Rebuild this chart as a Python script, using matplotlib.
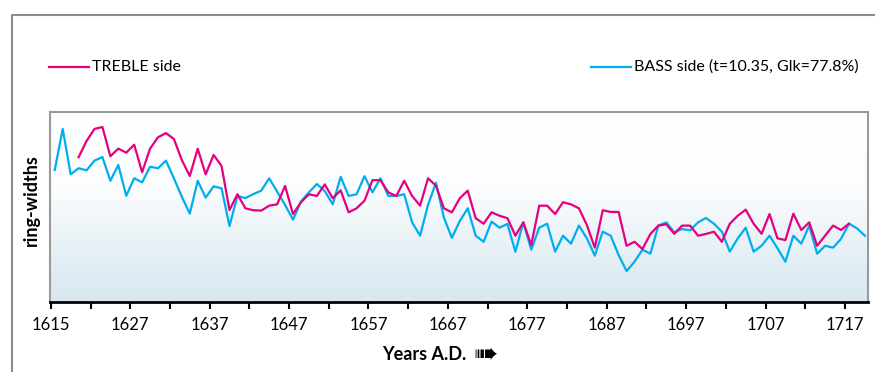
import numpy as np
import matplotlib
matplotlib.use("Agg")
import matplotlib.pyplot as plt
from matplotlib.lines import Line2D
from matplotlib.colors import LinearSegmentedColormap

plt.rcParams['font.family'] = ['Lato', 'DejaVu Sans']

# ring-width index (arbitrary units)
bass_start = 1617
bass = [69.5, 91.1, 67.2, 70.4, 69.3, 74.4, 76.3, 63.8, 72.1, 55.9,
        65.1, 63.0, 71.2, 70.4, 74.4, 65.1, 55.4, 46.5, 63.8, 54.9,
        60.9, 59.8, 40.0, 55.8, 54.7, 56.8, 58.6, 65.1, 58.1, 51.1,
        43.3, 52.8, 57.7, 62.1, 58.4, 51.4, 65.9, 55.8, 56.7, 66.2,
        57.7, 65.1, 55.8, 55.8, 56.7, 41.9, 34.9, 51.1, 62.8, 44.4,
        33.8, 42.6, 49.3, 34.9, 31.7, 42.3, 39.1, 41.1, 26.5, 41.9,
        27.5, 39.1, 41.2, 26.5, 34.9, 30.7, 40.2, 33.5, 24.4, 37.0,
        34.9, 24.7, 16.3, 21.2, 27.5, 25.4, 40.2, 41.9, 36.7, 38.4,
        37.7, 41.9, 44.2, 41.2, 37.0, 26.5, 33.5, 39.1, 26.5, 29.6,
        34.9, 28.3, 21.2, 34.9, 30.7, 40.2, 25.4, 29.6, 28.6, 33.2,
        41.2, 38.8, 34.9]
treble_start = 1620
treble = [76.2, 84.7, 91.1, 92.1, 76.7, 80.7, 78.6, 82.8, 68.3, 80.7,
          86.7, 88.9, 85.8, 74.7, 66.3, 80.7, 67.2, 77.4, 71.6, 48.4,
          56.7, 49.3, 48.3, 48.1, 50.7, 51.4, 61.1, 46.3, 52.5, 56.7,
          55.8, 61.9, 54.6, 58.8, 47.2, 49.3, 53.3, 64.1, 64.1, 57.7,
          55.8, 63.8, 55.8, 50.7, 65.1, 61.2, 49.3, 47.2, 54.6, 58.6,
          44.1, 41.2, 47.2, 45.4, 44.1, 34.9, 41.9, 30.0, 50.7, 50.7,
          46.3, 52.5, 51.4, 49.3, 40.5, 28.6, 48.3, 47.4, 47.4, 29.6,
          31.7, 27.9, 35.8, 40.2, 40.9, 35.9, 40.2, 40.2, 34.9, 35.8,
          37.0, 31.7, 41.2, 45.4, 48.6, 41.2, 35.9, 46.3, 33.5, 32.6,
          46.5, 37.9, 41.9, 29.6, 34.9, 40.2, 37.9, 41.2]
tick_labels = ['1615', '', '1627', '', '1637', '', '1647', '', '1657', '',
               '1667', '', '1677', '', '1687', '', '1697', '', '1707', '',
               '1717']

bass_years = np.arange(bass_start, bass_start + len(bass))
treble_years = np.arange(treble_start, treble_start + len(treble))

magenta = '#e5007d'
cyan = '#00aeef'

fig = plt.figure(figsize=(8.75, 3.72), dpi=100)
W, H = 875, 372

ax = fig.add_axes([50 / W, 1 - 302 / H, 818 / W, 190 / H])

# background gradient (white at top -> pale blue at bottom)
cmap = LinearSegmentedColormap.from_list(
    'bg', [(0, '#ffffff'), (0.4, '#fcfdfe'), (0.65, '#ebf3f7'), (1, '#d8e7f0')])
grad = np.linspace(0, 1, 256).reshape(-1, 1)
ax.imshow(grad, cmap=cmap, aspect='auto', extent=[0, 1, 0, 1],
          transform=ax.transAxes, zorder=0)

ax.plot(bass_years, bass, color=cyan, lw=1.6, zorder=2)
ax.plot(treble_years, treble, color=magenta, lw=1.6, zorder=3)

ax.set_xlim(1616.4, 1719.4)
ax.set_ylim(0, 100)
ax.set_xticks(np.arange(1616.5, 1720, 5))
ax.set_xticklabels(tick_labels)
ax.set_yticks([])
ax.tick_params(axis='x', length=5, width=1.5, color='black', pad=6,
               labelsize=12)

for s in ['left', 'top', 'right']:
    ax.spines[s].set_color('#9a9a9a')
    ax.spines[s].set_linewidth(1.5)
ax.spines['bottom'].set_color('black')
ax.spines['bottom'].set_linewidth(2)

# outer frame
fig.add_artist(Line2D([12 / W, 12 / W, 1.0], [0, 1 - 15 / H, 1 - 15 / H],
                      transform=fig.transFigure, color='#8c8c8c', lw=1.5))

# legend
ly = 1 - 67 / H
fig.add_artist(Line2D([49 / W, 89 / W], [ly, ly], transform=fig.transFigure,
                      color=magenta, lw=1.6))
fig.text(92 / W, ly, 'TREBLE side', fontsize=11.5, va='center', ha='left')
fig.add_artist(Line2D([591 / W, 631 / W], [ly, ly], transform=fig.transFigure,
                      color=cyan, lw=1.6))
fig.text(634 / W, ly, 'BASS side (t=10.35, Glk=77.8%)', fontsize=11.5,
         va='center', ha='left')

fig.text(31 / W, 1 - 200 / H, 'ring-widths', rotation=90, fontsize=13,
         fontweight='bold', va='center', ha='center')
fig.text(466 / W, 1 - 355 / H, 'Years A.D.', fontsize=13,
         fontweight='bold', va='center', ha='right')
fig.text(473 / W, 1 - 355 / H, '\u27a0', fontsize=21,
         fontweight='bold', va='center', ha='left', family='DejaVu Sans')

fig.savefig('out.png', dpi=100)
